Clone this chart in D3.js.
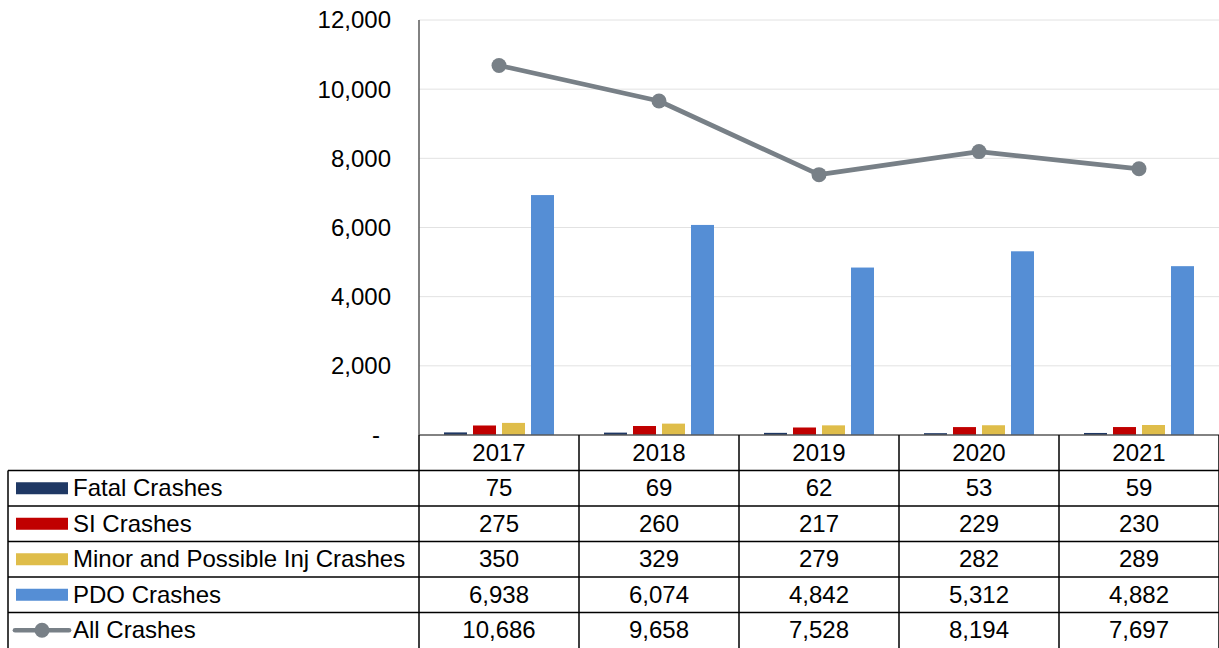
<!DOCTYPE html>
<html><head><meta charset="utf-8">
<script src="https://cdn.jsdelivr.net/npm/d3@7"></script>
<style>body{margin:0;background:#fff;}svg{display:block;font-family:"Liberation Sans",Arial,sans-serif;}</style>
</head><body>
<svg id="chart" width="1219" height="648"></svg>
<script>
const years = ["2017","2018","2019","2020","2021"];
const seriesNames = ["Fatal Crashes","SI Crashes","Minor and Possible Inj Crashes","PDO Crashes"];
const fatal = [75,69,62,53,59];
const si = [275,260,217,229,230];
const minor = [350,329,279,282,289];
const pdo = [6938,6074,4842,5312,4882];
const allCrashes = [10686,9658,7528,8194,7697];
const yTicks = [0,2000,4000,6000,8000,10000,12000];
const colors = ["#1f3864","#c00000","#dfbd4a","#558ed5"];
const lineColor = "#788087";

(function(){
const barSeries = [fatal, si, minor, pdo];
const svg = d3.select("#chart");
const FS = 24;
const pLeft = 419, pRight = 1219, pTop = 20, pBottom = 435;
const x = d3.scaleBand().domain(years).range([pLeft,pRight]).padding(0);
const inner = d3.scaleBand().domain(seriesNames).range([25,135]).paddingInner(6/29).paddingOuter(0);
const y = d3.scaleLinear().domain([0,12000]).range([pBottom, pTop]);
const fmt = d3.format(",");

svg.append("g").selectAll("line").data(yTicks.filter(d=>d>0)).join("line")
  .attr("x1",pLeft).attr("x2",pRight).attr("y1",d=>y(d)).attr("y2",d=>y(d))
  .attr("stroke","#e2e2e2").attr("stroke-width",1);

svg.append("g").selectAll("text").data(yTicks).join("text")
  .attr("x",d=>d===0?376:391).attr("y",d=>y(d)).attr("dy","0.35em")
  .attr("text-anchor",d=>d===0?"middle":"end").attr("font-size",FS).attr("fill","#000")
  .text(d=>d===0?"-":fmt(d));

seriesNames.forEach((name,k)=>{
  svg.append("g").selectAll("rect").data(years).join("rect")
    .attr("x",(d)=>x(d)+inner(name)).attr("width",inner.bandwidth())
    .attr("y",(d,i)=>y(barSeries[k][i])).attr("height",(d,i)=>pBottom-y(barSeries[k][i]))
    .attr("fill",colors[k]);
});

const cx = d=>x(d)+x.bandwidth()/2;
svg.append("path").datum(years)
  .attr("d",d3.line().x(d=>cx(d)).y((d,i)=>y(allCrashes[i])))
  .attr("fill","none").attr("stroke",lineColor).attr("stroke-width",4.7).attr("stroke-linejoin","round");
svg.append("g").selectAll("circle").data(years).join("circle")
  .attr("cx",d=>cx(d)).attr("cy",(d,i)=>y(allCrashes[i])).attr("r",7.5).attr("fill",lineColor);

svg.append("line").attr("x1",pLeft).attr("x2",pLeft).attr("y1",pTop).attr("y2",pBottom)
  .attr("stroke","#595959").attr("stroke-width",1.5);

const rowH = 35.5;
const tableTop = pBottom;
const tLeft = 8;
const rows = [
  {name:"Fatal Crashes", vals:fatal, type:"bar", color:colors[0]},
  {name:"SI Crashes", vals:si, type:"bar", color:colors[1]},
  {name:"Minor and Possible Inj Crashes", vals:minor, type:"bar", color:colors[2]},
  {name:"PDO Crashes", vals:pdo, type:"bar", color:colors[3]},
  {name:"All Crashes", vals:allCrashes, type:"line", color:lineColor}
];
const tg = svg.append("g");
tg.append("line").attr("x1",pLeft).attr("x2",pRight).attr("y1",tableTop).attr("y2",tableTop).attr("stroke","#595959").attr("stroke-width",1.5);
tg.selectAll("text.hdr").data(years).join("text").attr("class","hdr")
  .attr("x",d=>cx(d)).attr("y",tableTop+rowH/2).attr("dy","0.35em").attr("text-anchor","middle")
  .attr("font-size",FS).attr("fill","#000").text(d=>d);
for(let r=1;r<6;r++){
  const yy = tableTop + r*rowH;
  tg.append("line").attr("x1",tLeft).attr("x2",pRight).attr("y1",yy).attr("y2",yy).attr("stroke","#000").attr("stroke-width",1.5);
}
tg.append("line").attr("x1",tLeft).attr("x2",tLeft).attr("y1",tableTop+rowH).attr("y2",648).attr("stroke","#000").attr("stroke-width",1.5);
[pLeft].concat(years.map(d=>x(d)+x.bandwidth())).forEach(xx=>{
  tg.append("line").attr("x1",xx).attr("x2",xx).attr("y1",tableTop).attr("y2",648).attr("stroke","#000").attr("stroke-width",1.5);
});
rows.forEach((row,r)=>{
  const yc = tableTop + (r+1.5)*rowH;
  if(row.type==="bar"){
    tg.append("rect").attr("x",16).attr("y",yc-6).attr("width",52).attr("height",12).attr("fill",row.color);
  } else {
    tg.append("line").attr("x1",15).attr("x2",69).attr("y1",yc).attr("y2",yc).attr("stroke",row.color).attr("stroke-width",4.7).attr("stroke-linecap","round");
    tg.append("circle").attr("cx",42).attr("cy",yc).attr("r",7.5).attr("fill",row.color);
  }
  tg.append("text").attr("x",73).attr("y",yc).attr("dy","0.33em").attr("font-size",FS).attr("fill","#000").text(row.name);
  tg.append("g").selectAll("text").data(years).join("text")
    .attr("x",d=>cx(d)).attr("y",yc).attr("dy","0.33em").attr("text-anchor","middle")
    .attr("font-size",FS).attr("fill","#000").text((d,i)=>fmt(row.vals[i]));
});
})();
</script>
</body></html>
